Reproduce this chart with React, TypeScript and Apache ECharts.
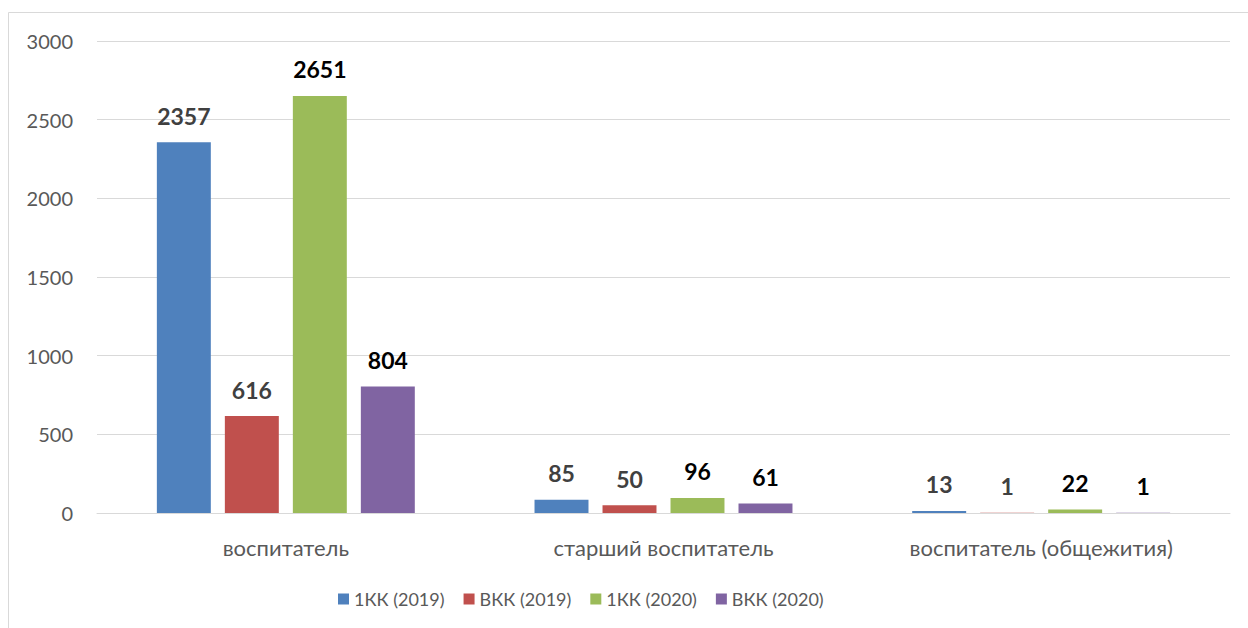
import React, { useEffect, useRef } from "react";
import * as echarts from "echarts";

const categories = ["воспитатель", "старший воспитатель", "воспитатель (общежития)"];
const seriesNames = ["1КК (2019)", "ВКК (2019)", "1КК (2020)", "ВКК (2020)"];
const kk1_2019 = [2357, 85, 13];
const vkk_2019 = [616, 50, 1];
const kk1_2020 = [2651, 96, 22];
const vkk_2020 = [804, 61, 1];
const seriesColors = ["#4f81bd", "#c0504d", "#9bbb59", "#8064a2"];
const labelColors = ["#404040", "#404040", "#000000", "#000000"];

export default function App() {
  const ref = useRef<HTMLDivElement>(null);
  useEffect(() => {
    if (!ref.current) return;
    const chart = echarts.init(ref.current, undefined, { renderer: "svg" });
    const font = "Lato, 'Open Sans', sans-serif";
    const data = [kk1_2019, vkk_2019, kk1_2020, vkk_2020];
    chart.setOption({
      animation: false,
      backgroundColor: "#ffffff",
      graphic: [
        {
          type: "rect",
          shape: { x: 8.5, y: 12.5, width: 1300, height: 700 },
          style: { fill: "none", stroke: "#d9d9d9", lineWidth: 1 },
          silent: true,
        },
      ],
      grid: { left: 97, right: 18, top: 41, bottom: 115 },
      legend: {
        data: seriesNames,
        top: 585,
        left: 333,
        icon: "rect",
        itemWidth: 11,
        itemHeight: 11,
        itemGap: 19,
        textStyle: { color: "#595959", fontSize: 18, fontFamily: font },
      },
      xAxis: {
        type: "category",
        data: categories,
        axisLine: { lineStyle: { color: "#d9d9d9", width: 1 } },
        axisTick: { show: false },
        axisLabel: { color: "#595959", fontSize: 22, fontFamily: font, margin: 23 },
      },
      yAxis: {
        type: "value",
        min: 0,
        max: 3000,
        interval: 500,
        axisLine: { show: false },
        axisTick: { show: false },
        splitLine: { lineStyle: { color: "#d9d9d9", width: 1 } },
        axisLabel: {
          color: "#595959",
          fontSize: 20,
          fontFamily: font,
          margin: 24,
          formatter: (v: number) => String(v),
        },
      },
      series: seriesNames.map((name, i) => ({
        name,
        type: "bar",
        data: data[i],
        barGap: "26%",
        barCategoryGap: "31.7%",
        itemStyle: { color: seriesColors[i] },
        label: {
          show: true,
          position: "top",
          distance: 15,
          color: labelColors[i],
          fontSize: 23,
          fontWeight: "bold",
          fontFamily: font,
        },
      })),
    });
    return () => chart.dispose();
  }, []);
  return (
    <div
      ref={ref}
      style={{ position: "fixed", left: 0, top: 0, width: 1248, height: 628 }}
    />
  );
}
